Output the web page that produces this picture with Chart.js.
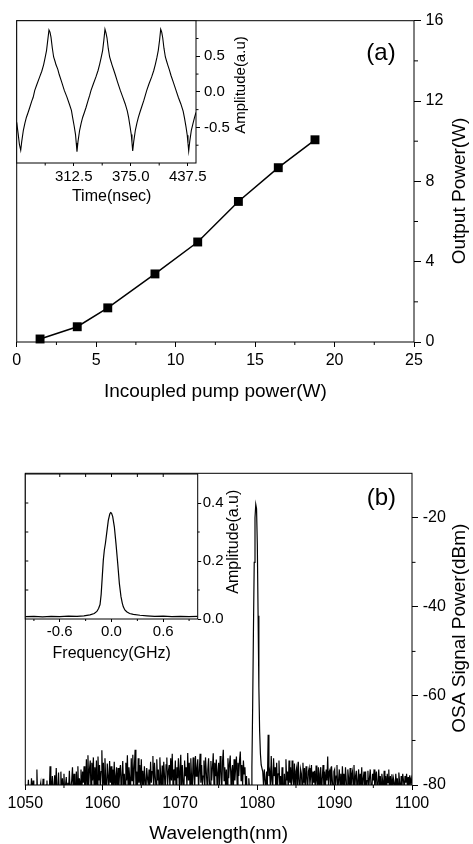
<!DOCTYPE html>
<html><head><meta charset="utf-8">
<script src="https://cdn.jsdelivr.net/npm/chart.js@4.4.1/dist/chart.umd.min.js"></script>
<style>
html,body{margin:0;padding:0;background:#fff;}
body{width:473px;height:844px;position:relative;overflow:hidden;}
canvas{position:absolute;}
</style></head><body>
<canvas id="cA" width="473" height="420" style="left:0;top:0;width:473px;height:420px"></canvas>
<canvas id="cAi" width="260" height="210" style="left:0;top:0;width:260px;height:210px"></canvas>
<canvas id="cB" width="473" height="424" style="left:0;top:420px;width:473px;height:424px"></canvas>
<canvas id="cBi" width="260" height="260" style="left:0;top:420px;width:260px;height:260px"></canvas>
<script>
// ---------- (a) output power vs pump ----------
const pumpPower   = [1.47, 3.81, 5.73, 8.70, 11.39, 13.95, 16.46, 18.77];
const outputPower = [0.15, 0.76, 1.70, 3.39, 4.98, 7.00, 8.68, 10.07];
const pumpTicks   = [0, 5, 10, 15, 20, 25];
const outputTicks = [0, 4, 8, 12, 16];

// ---------- (a) inset: pulse train ----------
const pulseTime = [250,251.5,253,254.4,255.5,257.3,259,260.6,262.5,264.3,266.5,268,269.8,272,275.2,277.5,279.5,281,282.7,284,285.4,286.5,287.6,289,290.5,292,293.1,295,296.7,299,302.2,305,307.7,310,311.3,313,314.5,315.3,316.1,
317.2,319,320.7,322.3,324.2,326,328.3,330,331.5,334,336.9,339.2,341,342.6,344.2,345.5,346.8,347.9,349,350.4,351.9,353.3,354.5,356.3,358.1,360.5,363.6,366.2,369,371.3,372.7,374.2,375.6,376.4,377.2,
378.3,380.1,381.8,383.4,385.3,387.1,389.4,391,392.6,395,398,400.3,402.1,403.7,405.2,406.6,407.9,409,410.1,411.5,413,414.4,415.6,417.4,419.2,421.6,424.7,427.3,430,432.5,434,435.6,437,437.8,438.6,439.7,441.5,443.2,444.8,446.6];
const pulseAmp = [-0.43,-0.58,-0.74,-0.82,-0.7,-0.54,-0.44,-0.36,-0.29,-0.22,-0.13,-0.08,0.02,0.10,0.21,0.29,0.38,0.47,0.58,0.72,0.87,0.84,0.77,0.62,0.49,0.43,0.38,0.32,0.24,0.15,0.02,-0.07,-0.17,-0.26,-0.36,-0.48,-0.6,-0.72,-0.84,
-0.7,-0.54,-0.44,-0.36,-0.29,-0.22,-0.12,-0.05,0.02,0.11,0.21,0.30,0.39,0.48,0.58,0.72,0.88,0.83,0.76,0.61,0.49,0.43,0.38,0.31,0.24,0.14,0.02,-0.07,-0.17,-0.27,-0.36,-0.48,-0.6,-0.71,-0.83,
-0.7,-0.54,-0.44,-0.36,-0.28,-0.21,-0.12,-0.05,0.02,0.11,0.21,0.30,0.39,0.48,0.58,0.72,0.88,0.84,0.76,0.61,0.49,0.43,0.38,0.31,0.23,0.14,0.02,-0.08,-0.17,-0.27,-0.37,-0.49,-0.61,-0.72,-0.83,-0.7,-0.54,-0.45,-0.37,-0.29];
const timeTicks = [312.5, 375.0, 437.5];
const timeMinor = [281.25, 343.75, 406.25];
const ampTicksA = [-0.5, 0.0, 0.5];
const ampMinorA = [-0.75, -0.25, 0.25, 0.75];

// ---------- (b) OSA spectrum (0.1 nm sampling) ----------
const wlStep = 0.1;
const noise1Start = 1050.0;
const noise1 = [
-82,-83.5,-81,-82.5,-78.8,-83,-81.5,-82,-78.5,-83,
-79,-82.5,-84,-81,-82,-76.5,-83,-81.5,-82.5,-80.5,
-79.5,-83,-82,-78.6,-81.5,-83,-82,-80,-79,-83.5,
-81,-82,-75.8,-82.5,-81,-78,-83,-80.5,-77.8,-82,
-76.2,-81,-83,-77.2,-82,-80.5,-77,-83,-78.5,-81,
-77.5,-82.5,-80,-78.2,-83,-79.5,-81,-76.8,-82,-80.5,
-79,-76,-82,-77.5,-80.5,-83,-77,-81,-75.8,-82,
-78.5,-80,-76.5,-82,-77,-79.5,-75.8,-81.5,-80,-74.2,
-81,-73.3,-80,-76.5,-74.5,-82,-75,-79,-73.8,-81,
-76,-80.5,-74.5,-82,-73.6,-79,-75.5,-81,-77,-72.2,
-80,-75,-81.5,-74,-79,-82,-75.2,-78,-81,-74.6,
-79.5,-75.8,-82,-76.5,-80,-74.8,-81.5,-78,-76,-82,
-76.2,-80.5,-77,-75.5,-82,-78,-74.6,-80,-77.5,-81,
-75,-79,-73.3,-81.5,-76,-78.5,-82,-74,-79,-73.2,
-81,-76,-72.1,-80,-77,-82,-74,-79.5,-75.5,-81,
-74.2,-80,-76.8,-82,-75.8,-79,-81.5,-76.2,-78.5,-80,
-76.5,-81,-74.8,-79.5,-77,-73.5,-82,-75,-78,-80.5,
-74.2,-79,-76.5,-81,-73.8,-78,-80.5,-75.6,-81.5,-74.8,
-78,-82,-75.5,-73.8,-80,-77,-75.5,-81,-74,-79,
-73,-80.5,-76.5,-79,-74.5,-82,-76,-78.5,-74,-80,
-77,-73.2,-81,-75.5,-79.5,-82,-74.5,-78,-76,-80.5,
-72.8,-79,-75,-81,-74,-78.5,-80.5,-73.8,-77.5,-81,
-73.5,-78,-76.5,-74.2,-81,-77,-73,-79.5,-75.5,-80,
-78,-74.5,-81.5,-73.8,-77,-80,-76.5,-74,-79,-81,
-74.6,-79,-76,-72.9,-80.5,-75,-78,-74.3,-81,-77.2,
-75,-80,-73.5,-77,-81.5,-74.8,-72.1,-79,-76,-80.5,
-76.5,-81,-74,-78.5,-75.2,-73.4,-80,-77,-75.5,-81.5,
-74.2,-79,-76,-73.6,-80.5,-75,-78,-74.5,-72.5,-79,
-75.5,-80,-74.5,-77.5,-76,-81.5,-78,-83,-80.5,-78.5,
-81,-82,-83];
const peakWl  = [1079.3,1079.4,1079.5,1079.6,1079.7,1079.8,1079.9,1080.0,1080.1,1080.2,1080.3,1080.4,1080.5];
const peakPow = [-76,-62,-45,-30,-20,-17,-18,-26,-42,-58,-68,-73,-75.5];
const noise2Start = 1080.6;
const noise2 = [
-75.5,-77,-80,-76.5,
-79,-81,-77,-80,-68.7,-78,-77,-81,-73.5,-79,
-80.5,-74,-78,-76,-82,-75,-81,-77.5,-74.5,-80,
-78,-82,-76,-81.5,-83,-77.5,-80.5,-74.2,-79,-77,
-81,-74.5,-79.5,-76,-82,-74.5,-78.5,-80,-75.2,-81,
-77,-76,-80.5,-74.8,-79,-82,-76.5,-77.5,-81,-75,
-79.5,-76.2,-82,-75.8,-78,-81.5,-77,-76.2,-80,-78,
-75.5,-81,-77,-79.5,-76.8,-82,-75.6,-79,-80.5,-76,
-81,-77.5,-76,-82,-78.5,-75.5,-80,-77,-81.5,-76.5,
-79,-73.6,-80.5,-77,-76.5,-82,-75.8,-79,-81,-77,
-76.5,-81,-78,-75.5,-82,-79,-76.5,-80.5,-77.5,-82,
-75.8,-80,-77.5,-81,-76,-79,-82,-76.5,-78.5,-80.5,
-76.2,-82,-78,-77,-80.5,-75.5,-81,-78,-76.8,-82,
-79,-76.5,-81,-77.5,-80,-76,-82,-78.5,-77,-81,
-77,-82,-79,-76.8,-81,-78.5,-76.5,-80,-82,-77.5,
-79,-76.5,-81.5,-78.2,-77,-82,-79.5,-76.5,-80.5,-78,
-81,-77.5,-79,-82,-76.8,-80,-78,-81.5,-77.5,-79.5,
-76.5,-82,-78,-80,-77.6,-81,-78.5,-79.5,-82,-77.5,
-80,-78.5,-81,-77.2,-79.5,-82,-78,-80.5,-77.5,-79,
-81,-78,-79.5,-77.5,-80.5,-78.2,-82,-77.8,-79.5,-78.5,
-80];
const wlTicks  = [1050, 1060, 1070, 1080, 1090, 1100];
const wlMinor  = [1055, 1065, 1075, 1085, 1095];
const osaTicks = [-80, -60, -40, -20];
const osaMinor = [-70, -50, -30];

// ---------- (b) inset: linewidth ----------
const freqGHz = [-1.0,-0.9,-0.8,-0.7,-0.6,-0.5,-0.4,-0.32,-0.25,-0.2,-0.17,-0.15,-0.133,-0.12,-0.107,-0.095,-0.083,-0.07,-0.056,-0.037,-0.02,-0.01,0.0,0.014,0.033,0.052,0.072,0.091,0.11,0.125,0.137,0.155,0.176,0.21,0.253,0.33,0.41,0.5,0.6,0.7,0.8,0.9,1.0];
const lineAmp = [0.008,0.009,0.007,0.009,0.008,0.010,0.009,0.011,0.014,0.019,0.026,0.036,0.05,0.085,0.146,0.203,0.238,0.262,0.295,0.34,0.362,0.367,0.365,0.353,0.318,0.26,0.192,0.123,0.077,0.055,0.042,0.031,0.025,0.019,0.016,0.013,0.011,0.009,0.010,0.008,0.009,0.008,0.009];
const freqTicks = [-0.6, 0.0, 0.6];
const freqMinor = [-0.9, -0.3, 0.3, 0.9];
const ampTicksB = [0.0, 0.2, 0.4];
const ampMinorB = [0.1, 0.3];

// ---------- helpers ----------
const FONT = '"Liberation Sans", Arial, Helvetica, sans-serif';
Chart.defaults.font.family = FONT;
Chart.defaults.color = '#000';

const framePlugin = {
  id: 'frame',
  beforeDraw(chart, args, o) {
    if (!o.fill) return;
    const {ctx, chartArea: a} = chart;
    ctx.save(); ctx.fillStyle = '#fff';
    ctx.fillRect(a.left, a.top, a.right - a.left, a.bottom - a.top);
    ctx.restore();
  },
  afterDraw(chart, args, o) {
    const {ctx, chartArea: a, scales} = chart;
    ctx.save();
    ctx.strokeStyle = '#000'; ctx.lineWidth = 1;
    ctx.strokeRect(a.left, a.top, a.right - a.left, a.bottom - a.top);
    ctx.beginPath();
    (o.minorX || []).forEach(v => { const p = scales.x.getPixelForValue(v); ctx.moveTo(p, a.bottom); ctx.lineTo(p, a.bottom + o.minorLenX); });
    (o.minorY || []).forEach(v => { const p = scales.y.getPixelForValue(v); ctx.moveTo(a.right, p); ctx.lineTo(a.right + o.minorLenY, p); });
    (o.innerTop || []).forEach(v => { const p = scales.x.getPixelForValue(v); ctx.moveTo(p, a.top); ctx.lineTo(p, a.top + 3); });
    (o.innerLeft || []).forEach(v => { const p = scales.y.getPixelForValue(v); ctx.moveTo(a.left, p); ctx.lineTo(a.left + 3, p); });
    ctx.stroke();
    ctx.fillStyle = '#000';
    ctx.textAlign = 'center'; ctx.textBaseline = 'middle';
    ctx.font = o.titleSize + 'px ' + FONT;
    ctx.fillText(o.xTitle, (a.left + a.right) / 2 + o.xDx, a.bottom + o.xDy);
    ctx.save();
    ctx.font = o.yTitleSize + 'px ' + FONT;
    ctx.translate(a.right + o.yDx, (a.top + a.bottom) / 2 + o.yDy);
    ctx.rotate(-Math.PI / 2);
    ctx.fillText(o.yTitle, 0, 0);
    ctx.restore();
    if (o.tag) {
      ctx.font = '24px ' + FONT;
      ctx.fillText(o.tag, a.right + o.tagDx, a.top + o.tagDy);
    }
    ctx.restore();
  }
};

function axis(pos, min, max, ticks, size, tl, pad, fmt, fit) {
  return {
    type: 'linear', position: pos, min: min, max: max,
    afterBuildTicks: s => { s.ticks = ticks.map(v => ({value: v})); },
    afterFit: s => { if (pos === 'bottom') s.height = fit; else s.width = fit; },
    grid: {drawOnChartArea: false, drawTicks: true, tickLength: tl, color: '#000', tickColor: '#000', lineWidth: 1},
    border: {display: false},
    ticks: {font: {size: size}, padding: pad, color: '#000', maxRotation: 0, autoSkip: false, callback: fmt}
  };
}
const fmtInt = v => String(v);
const fmt1 = v => Number(v).toFixed(1);
const pts = (xs, ys) => xs.map((x, i) => ({x: x, y: ys[i]}));
const noisePts = (start, vals) => vals.map((y, i) => ({x: start + i * wlStep, y: y}));

function baseOpts(pad, scales, frame) {
  return {
    responsive: false, animation: false, devicePixelRatio: 1,
    layout: {padding: pad},
    scales: scales,
    plugins: {legend: {display: false}, tooltip: {enabled: false}, frame: frame}
  };
}

// ---------- chart (a) ----------
new Chart(document.getElementById('cA'), {
  type: 'line',
  data: {datasets: [{
    data: pts(pumpPower, outputPower),
    borderColor: '#000', borderWidth: 1.5, tension: 0,
    pointStyle: 'rect', pointRadius: 6.3, pointBackgroundColor: '#000', pointBorderColor: '#000', pointBorderWidth: 0,
    clip: false
  }]},
  options: baseOpts({left: 16.7, top: 20.7, right: 0, bottom: 0}, {
    x: axis('bottom', 0, 25, pumpTicks, 16, 5, 4.4, fmtInt, 78),
    y: axis('right', 0, 16, outputTicks, 16, 7, 4.5, fmtInt, 59)
  }, {xTitle: 'Incoupled pump power(W)', titleSize: 19, xDx: 0, xDy: 49.7,
      yTitle: 'Output Power(W)', yTitleSize: 19, yDx: 46, yDy: 9.6,
      minorX: [2.5, 7.5, 12.5, 17.5, 22.5], minorLenX: 3,
      minorY: [2, 6, 10, 14], minorLenY: 4,
      tag: '(a)', tagDx: -33, tagDy: 32.6}),
  plugins: [framePlugin]
});

// ---------- inset (a) ----------
new Chart(document.getElementById('cAi'), {
  type: 'line',
  data: {datasets: [{
    data: pts(pulseTime, pulseAmp),
    borderColor: '#000', borderWidth: 1.1, tension: 0, pointRadius: 0
  }]},
  options: baseOpts({left: 16.7, top: 20.7, right: 0, bottom: 0}, {
    x: axis('bottom', 250, 446.6, timeTicks, 15, 3, 1.5, fmt1, 47),
    y: axis('right', -1, 1, ampTicksA, 15, 4, 4, fmt1, 64)
  }, {fill: true, xTitle: 'Time(nsec)', titleSize: 16, xDx: 5.3, xDy: 33.7,
      yTitle: 'Amplitude(a.u)', yTitleSize: 15, yDx: 45, yDy: -6.8,
      minorX: timeMinor, minorLenX: 2.5, minorY: ampMinorA, minorLenY: 2.5}),
  plugins: [framePlugin]
});

// ---------- chart (b) ----------
const spectrum = noisePts(noise1Start, noise1).concat(pts(peakWl, peakPow), noisePts(noise2Start, noise2));
new Chart(document.getElementById('cB'), {
  type: 'line',
  data: {datasets: [{
    data: spectrum,
    borderColor: '#000', borderWidth: 1.2, tension: 0, pointRadius: 0
  }]},
  options: baseOpts({left: 25.3, top: 53.3, right: 0, bottom: 0}, {
    x: axis('bottom', 1050, 1100, wlTicks, 16, 5, 3.7, fmtInt, 59),
    y: axis('right', -80, -10, osaTicks, 16, 6, 4.7, fmtInt, 61)
  }, {xTitle: 'Wavelength(nm)', titleSize: 19, xDx: 0, xDy: 48.3,
      yTitle: 'OSA Signal Power(dBm)', yTitleSize: 19, yDx: 48, yDy: -1,
      minorX: wlMinor, minorLenX: 3, minorY: osaMinor, minorLenY: 3.5,
      tag: '(b)', tagDx: -30.7, tagDy: 24.7}),
  plugins: [framePlugin]
});

// ---------- inset (b) ----------
new Chart(document.getElementById('cBi'), {
  type: 'line',
  data: {datasets: [{
    data: pts(freqGHz, lineAmp),
    borderColor: '#000', borderWidth: 1.2, tension: 0, pointRadius: 0
  }]},
  options: baseOpts({left: 25.3, top: 54, right: 0, bottom: 0}, {
    x: axis('bottom', -1, 1, freqTicks, 15, 3, 0.5, fmt1, 61),
    y: axis('right', 0, 0.5, ampTicksB, 15, 3.5, 1.5, fmt1, 62.3)
  }, {fill: true, xTitle: 'Frequency(GHz)', titleSize: 16, xDx: 0.2, xDy: 34.3,
      yTitle: 'Amplitude(a.u)', yTitleSize: 16, yDx: 36.3, yDy: -4.8,
      minorX: freqMinor, minorLenX: 2, minorY: ampMinorB, minorLenY: 2,
      innerTop: [-0.6, -0.3, 0.0, 0.3, 0.6], innerLeft: [0.1, 0.2, 0.3, 0.4]}),
  plugins: [framePlugin]
});
</script>
</body></html>
